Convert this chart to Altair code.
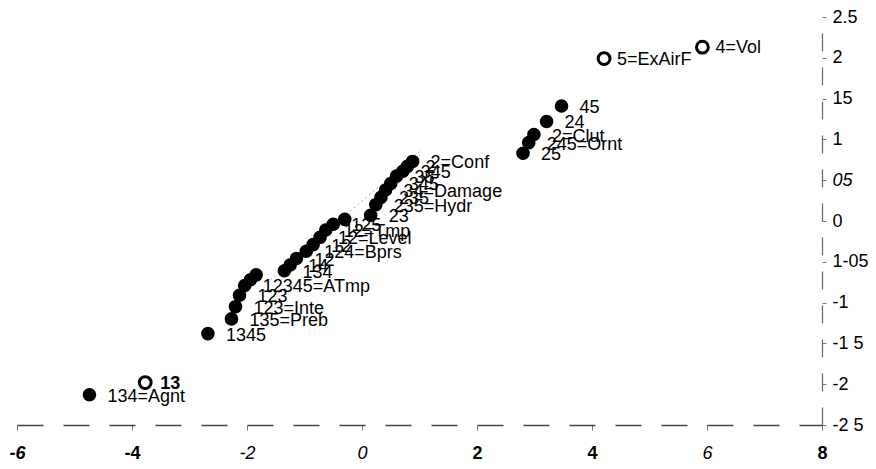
import altair as alt
import pandas as pd

# ---- data ----
filled_x = [-4.74, -2.68, -2.27, -2.20, -2.13, -2.04, -1.94, -1.84,
            -1.35, -1.25, -1.14, -0.97, -0.85, -0.73, -0.63, -0.50, -0.30,
            0.15, 0.24, 0.33, 0.41, 0.50, 0.60, 0.71, 0.79, 0.88,
            2.80, 2.90, 2.99, 3.21, 3.47]
filled_y = [-2.13, -1.38, -1.20, -1.05, -0.91, -0.79, -0.72, -0.66,
            -0.61, -0.54, -0.46, -0.37, -0.29, -0.20, -0.11, -0.04, 0.02,
            0.07, 0.20, 0.29, 0.38, 0.46, 0.55, 0.61, 0.67, 0.73,
            0.83, 0.96, 1.06, 1.22, 1.41]
filled_labels = ["134=Agnt", "1345", "135=Preb", "123=Inte", "123", "12345=ATmp", "", "",
                 "134", "14", "12", "124=Bprs", "12", "12=Level", "12=Tmp", "125", "",
                 "23", "235=Hydr", "235", "34=Damage", "345", "35", "345", "2", "2=Conf",
                 "25", "245=Ornt", "2=Clut", "24", "45"]

open_x = [4.21, 5.92, -3.77]
open_y = [1.99, 2.13, -1.98]
open_labels = ["5=ExAirF", "4=Vol", "13"]
open_bold = [False, False, True]

fit_x = [-1.66, 1.00]
fit_y = [-0.76, 0.85]

x_ticks = [-6, -4, -2, 0, 2, 4, 6, 8]
x_tick_labels = ["-6", "-4", "-2", "0", "2", "4", "6", "8"]
y_ticks = [2.5, 2, 1.5, 1, 0.5, 0, -0.5, -1, -1.5, -2, -2.5]
y_tick_labels = ["2.5", "2", "15", "1", "05", "0", "1-05", "-1", "-1 5", "-2", "-2 5"]

# ---- tables ----
filled = pd.DataFrame({"x": filled_x, "y": filled_y, "label": filled_labels})
opened = pd.DataFrame({"x": open_x, "y": open_y, "label": open_labels, "bold": open_bold})
fit = pd.DataFrame({"x": fit_x, "y": fit_y})

FONT = "Liberation Sans"


def label_expr(values, labels):
    parts = [f"datum.value == {v} ? '{l}'" for v, l in zip(values, labels)]
    return " : ".join(parts) + " : ''"


x_axis = alt.Axis(
    values=x_ticks, labelExpr=label_expr(x_ticks, x_tick_labels),
    orient="bottom", grid=False, title=None,
    domainColor="#444", domainDash=[26, 20], domainWidth=1.4,
    tickColor="#777", tickSize=5, labelPadding=14,
    labelFont=FONT, labelFontSize=18, labelColor="black",
    labelFontWeight={"condition": {"test": "indexof([-2, 0, 6], datum.value) >= 0", "value": "normal"}, "value": "bold"},
    labelFontStyle={"condition": {"test": "indexof([-6, -2, 0, 6], datum.value) >= 0", "value": "italic"}, "value": "normal"},
    labelFlush=False, labelOverlap=False,
)
y_axis = alt.Axis(
    values=y_ticks, labelExpr=label_expr(y_ticks, y_tick_labels),
    orient="right", grid=False, title=None,
    domainColor="#666", domainDash=[18, 16], domainWidth=1.2,
    tickColor="#777", tickSize=4, labelPadding=6,
    labelFont=FONT, labelFontSize=18, labelColor="black",
    labelFontStyle={"condition": {"test": "datum.value == 0.5", "value": "italic"}, "value": "normal"},
    labelFlush=False, labelOverlap=False, labelBaseline="middle",
)

xs = alt.Scale(domain=[-6, 8], nice=False, zero=False)
ys = alt.Scale(domain=[-2.5, 2.5], nice=False, zero=False)

X = alt.X("x:Q", scale=xs, axis=x_axis)
Y = alt.Y("y:Q", scale=ys, axis=y_axis)

line = alt.Chart(fit).mark_line(color="#aaa", strokeWidth=1, strokeDash=[2, 3]).encode(x=X, y=Y)

dots = alt.Chart(filled).mark_circle(size=185, color="black", opacity=1).encode(x=X, y=Y)

dot_text = alt.Chart(filled).mark_text(
    align="left", baseline="middle", dx=18, dy=2, font=FONT, fontSize=18, color="black"
).encode(x=X, y=Y, text="label:N")

rings = alt.Chart(opened).mark_point(
    shape="circle", filled=False, size=140, strokeWidth=3, color="black", opacity=1
).encode(x=X, y=Y)

ring_text = alt.Chart(opened).transform_filter("!datum.bold").mark_text(
    align="left", baseline="middle", dx=13, dy=1, font=FONT, fontSize=18, color="black"
).encode(x=X, y=Y, text="label:N")

ring_text_bold = alt.Chart(opened).transform_filter("datum.bold").mark_text(
    align="left", baseline="middle", dx=15, dy=1, font=FONT, fontSize=18, fontWeight="bold", color="black"
).encode(x=X, y=Y, text="label:N")

chart = alt.layer(line, dots, dot_text, rings, ring_text, ring_text_bold).properties(
    width=805, height=408,
    autosize=alt.AutoSizeParams(type="none"),
    padding={"left": 9, "top": 9, "right": 46, "bottom": 36},
    background="white",
).configure_view(stroke=None)

chart.save("out.html", embed_options={"renderer": "svg", "actions": False})
